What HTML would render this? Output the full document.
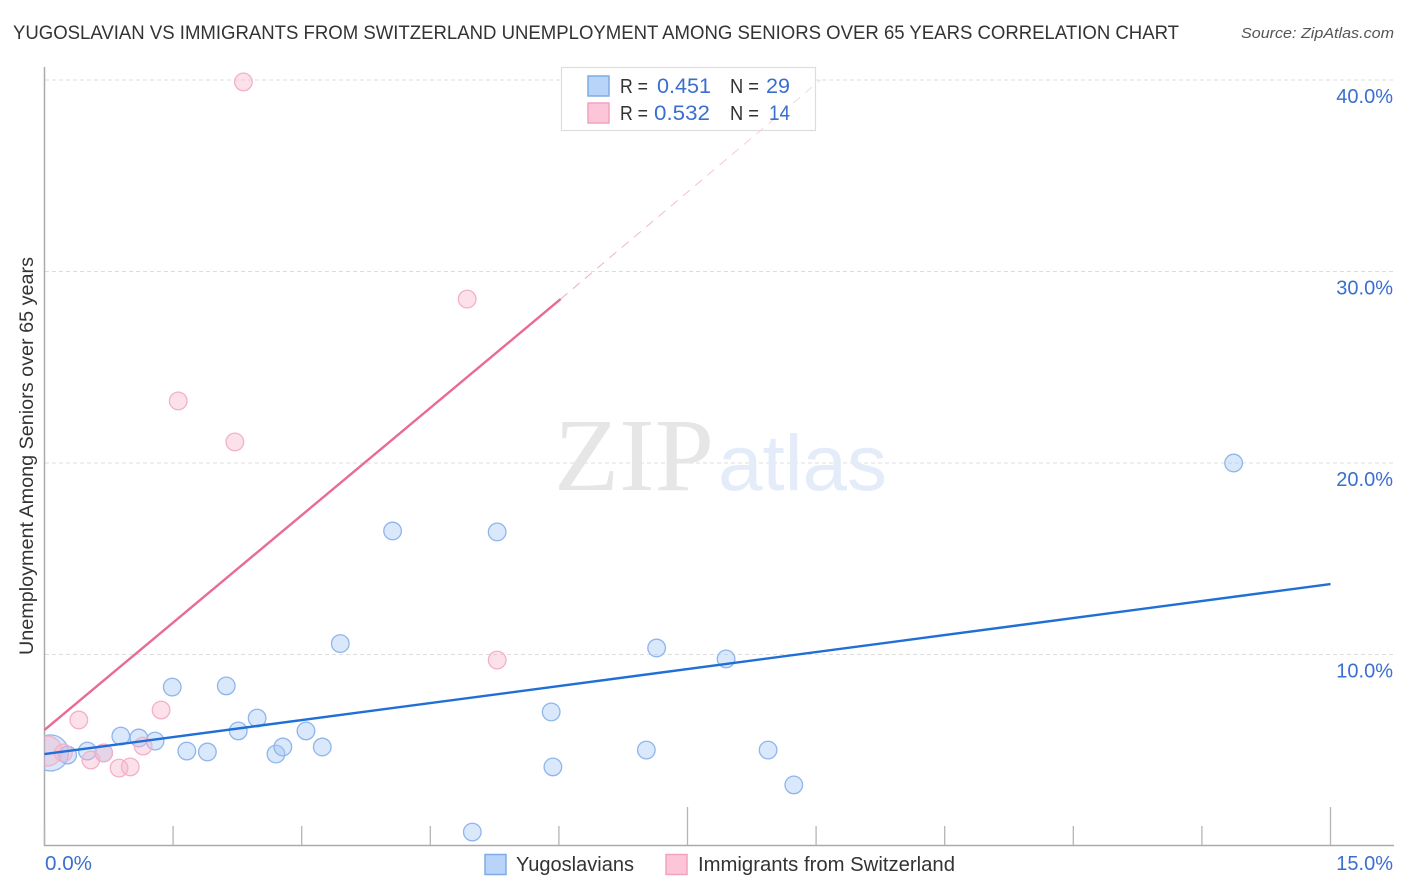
<!DOCTYPE html>
<html lang="en">
<head>
<meta charset="utf-8">
<title>Yugoslavian vs Immigrants from Switzerland correlation chart</title>
<style>
html,body{margin:0;padding:0;background:#fff;}
svg{display:block;}
text{font-family:"Liberation Sans",sans-serif;}
</style>
</head>
<body>
<svg id="chart" xmlns="http://www.w3.org/2000/svg" width="1406" height="892" viewBox="0 0 1406 892">
  <defs>
    <clipPath id="plot-clip"><rect x="44.5" y="60" width="1350" height="786"></rect></clipPath>
    <linearGradient id="dash-fade" x1="0" y1="1" x2="1" y2="0">
      <stop offset="0" stop-color="#f2a6c2"></stop>
      <stop offset="0.6" stop-color="#f5c6d8"></stop>
      <stop offset="1" stop-color="#e9dfe4"></stop>
    </linearGradient>
  </defs>
  <text x="13" y="39" font-size="19.5" fill="#333" textLength="1166" lengthAdjust="spacingAndGlyphs">YUGOSLAVIAN VS IMMIGRANTS FROM SWITZERLAND UNEMPLOYMENT AMONG SENIORS OVER 65 YEARS CORRELATION CHART</text>
  <text x="1394" y="38" font-size="15" font-style="italic" fill="#555" text-anchor="end" textLength="153" lengthAdjust="spacingAndGlyphs">Source: ZipAtlas.com</text>
  <g id="grid"></g>
  <g>
    <text x="554" y="490" font-size="104" fill="#e6e6e6" textLength="160" lengthAdjust="spacingAndGlyphs" style="font-family:'Liberation Serif',serif">ZIP</text>
    <text x="718" y="490" font-size="79" fill="#e4ecf9" textLength="169" lengthAdjust="spacingAndGlyphs">atlas</text>
  </g>
  <g id="axes"></g>
  <g id="points" clip-path="url(#plot-clip)"></g>
  <g id="lines"></g>
  <g id="tick-labels"></g>
  <text transform="translate(33,456) rotate(-90)" font-size="19" fill="#333" text-anchor="middle" textLength="398" lengthAdjust="spacingAndGlyphs">Unemployment Among Seniors over 65 years</text>

  <g>
    <rect x="561.5" y="67.5" width="254" height="63" fill="#fff" stroke="#ddd" stroke-width="1.2"></rect>
    <g id="overlay"></g>
    <rect x="588" y="76" width="21" height="20" fill="#b8d4f8" stroke="#7fabe3" stroke-width="1.5"></rect>
    <rect x="588" y="103" width="21" height="20" fill="#fcc5d8" stroke="#f2a3bf" stroke-width="1.5"></rect>
    <text x="620" y="93" font-size="20" fill="#333" textLength="28" lengthAdjust="spacingAndGlyphs">R =</text>
    <text x="657" y="93" font-size="21" fill="#3a6fcf" textLength="54" lengthAdjust="spacingAndGlyphs">0.451</text>
    <text x="730" y="93" font-size="20" fill="#333" textLength="29" lengthAdjust="spacingAndGlyphs">N =</text>
    <text x="766" y="93" font-size="21" fill="#3a6fcf" textLength="24" lengthAdjust="spacingAndGlyphs">29</text>
    <text x="620" y="120" font-size="20" fill="#333" textLength="28" lengthAdjust="spacingAndGlyphs">R =</text>
    <text x="654" y="120" font-size="21" fill="#3a6fcf" textLength="56" lengthAdjust="spacingAndGlyphs">0.532</text>
    <text x="730" y="120" font-size="20" fill="#333" textLength="29" lengthAdjust="spacingAndGlyphs">N =</text>
    <text x="769" y="120" font-size="21" fill="#3a6fcf" textLength="21" lengthAdjust="spacingAndGlyphs">14</text>
  </g>

  <g>
    <rect x="485" y="854.5" width="21" height="20" fill="#b8d4f8" stroke="#7fabe3" stroke-width="1.5"></rect>
    <text x="516" y="871" font-size="20" fill="#333" textLength="118" lengthAdjust="spacingAndGlyphs">Yugoslavians</text>
    <rect x="666" y="854.5" width="21" height="20" fill="#fcc5d8" stroke="#f2a3bf" stroke-width="1.5"></rect>
    <text x="698" y="871" font-size="20" fill="#333" textLength="257" lengthAdjust="spacingAndGlyphs">Immigrants from Switzerland</text>
  </g>
</svg>
<script>
// Chart data
const xTickValues = [0, 1.5, 3, 4.5, 6, 7.5, 9, 10.5, 12, 13.5, 15];
const yTickValues = [10, 20, 30, 40];
const yTickLabels = ["10.0%", "20.0%", "30.0%", "40.0%"];
const xEndLabels = ["0.0%", "15.0%"];

const blueX = [0.07,0.27,0.50,0.69,0.89,1.10,1.29,1.49,1.66,1.90,2.12,2.26,2.48,2.70,2.78,3.05,3.24,3.45,4.06,5.28,4.99,5.91,5.93,7.02,7.14,7.95,8.44,8.74,13.87];
const blueY = [4.86,4.75,4.96,4.86,5.74,5.64,5.48,8.30,4.96,4.91,8.36,6.01,6.68,4.80,5.17,6.01,5.17,10.57,16.45,16.40,0.73,7.00,4.13,5.01,10.34,9.77,5.01,3.19,20.0];
const blueWeight = [4.2,1,1,1,1,1,1,1,1,1,1,1,1,1,1,1,1,1,1,1,1,1,1,1,1,1,1,1,1];

const pinkX = [0.03,0.22,0.40,0.54,0.69,0.87,1.00,1.15,1.36,1.56,2.22,2.32,4.93,5.28];
const pinkY = [4.96,4.86,6.58,4.49,4.86,4.07,4.13,5.22,7.10,23.24,21.10,39.9,28.56,9.71];
const pinkWeight = [2.9,1,1,1,1,1,1,1,1,1,1,1,1,1];

const blueTrendX = [0, 15];
const blueTrendY = [4.8, 13.68];
const pinkTrendX = [0, 6.02];
const pinkTrendY = [6.06, 28.56];
const pinkDashedX = [6.02, 9.05];
const pinkDashedY = [28.56, 40.0];

// Axis functions
function xScale(v) { return 44.5 + v * (1330.5 - 44.5) / 15; }
function yScale(v) { return 846 - v * 19.15; }
function rScale(w) { return 8.8 * Math.sqrt(w); }

const NS = "http://www.w3.org/2000/svg";
function make(tag, attrs, parent) {
  const el = document.createElementNS(NS, tag);
  for (const k in attrs) el.setAttribute(k, attrs[k]);
  parent.appendChild(el);
  return el;
}

const grid = document.getElementById("grid");
const axes = document.getElementById("axes");
const points = document.getElementById("points");
const lines = document.getElementById("lines");
const overlay = document.getElementById("overlay");
const tickLabels = document.getElementById("tick-labels");

yTickValues.forEach(function (v, i) {
  const g = make("line", {x1: 45, x2: 1394, y1: yScale(v), y2: yScale(v), stroke: "#dcdcdc", "stroke-width": 1, "stroke-dasharray": "4 3"}, grid);
  
  
  const t = make("text", {x: 1393, y: yScale(v) + 23, "font-size": 20, fill: "#3a6fcf", "text-anchor": "end"}, tickLabels);
  
  
  t.textContent = yTickLabels[i];
});

const yAxis = make("line", {x1: 44.5, x2: 44.5, y1: 67, y2: 846, stroke: "#aaa", "stroke-width": 1.5}, axes);


const xAxis = make("line", {x1: 44, x2: 1394, y1: 845.5, y2: 845.5, stroke: "#aaa", "stroke-width": 1.5}, axes);



xTickValues.forEach(function (v, i) {
  const isLong = (i === 5 || i === 10);
  const tick = make("line", {x1: xScale(v), x2: xScale(v), y1: isLong ? 807 : 826, y2: 845, stroke: "#b5b5b5", "stroke-width": 1.3}, axes);
  
  
});

const xLabelStart = make("text", {x: 45, y: 870, "font-size": 20, fill: "#3a6fcf", textLength: 47, lengthAdjust: "spacingAndGlyphs"}, tickLabels);


xLabelStart.textContent = xEndLabels[0];
const xLabelEnd = make("text", {x: 1393, y: 870, "font-size": 20, fill: "#3a6fcf", "text-anchor": "end"}, tickLabels);


xLabelEnd.textContent = xEndLabels[1];

blueX.forEach(function (v, i) {
  const c = make("circle", {cx: xScale(v), cy: yScale(blueY[i]), r: rScale(blueWeight[i]), fill: "rgba(165,200,245,0.42)", stroke: "#8fb5ec", "stroke-width": 1.3}, points);
  
  
});
pinkX.forEach(function (v, i) {
  const c = make("circle", {cx: xScale(v), cy: yScale(pinkY[i]), r: rScale(pinkWeight[i]), fill: "rgba(248,180,205,0.4)", stroke: "#f3b0c7", "stroke-width": 1.3}, points);
  
  
});

const pinkDash = make("line", {x1: xScale(pinkDashedX[0]), y1: yScale(pinkDashedY[0]), x2: xScale(pinkDashedX[1]), y2: yScale(pinkDashedY[1]), stroke: "url(#dash-fade)", "stroke-width": 1, "stroke-dasharray": "9 7"}, overlay);


const pinkLine = make("line", {x1: xScale(pinkTrendX[0]), y1: yScale(pinkTrendY[0]), x2: xScale(pinkTrendX[1]), y2: yScale(pinkTrendY[1]), stroke: "#e96a98", "stroke-width": 2.4}, lines);


const blueLine = make("line", {x1: xScale(blueTrendX[0]), y1: yScale(blueTrendY[0]), x2: xScale(blueTrendX[1]), y2: yScale(blueTrendY[1]), stroke: "#1f6fd6", "stroke-width": 2.4}, lines);


</script>
</body>
</html>
